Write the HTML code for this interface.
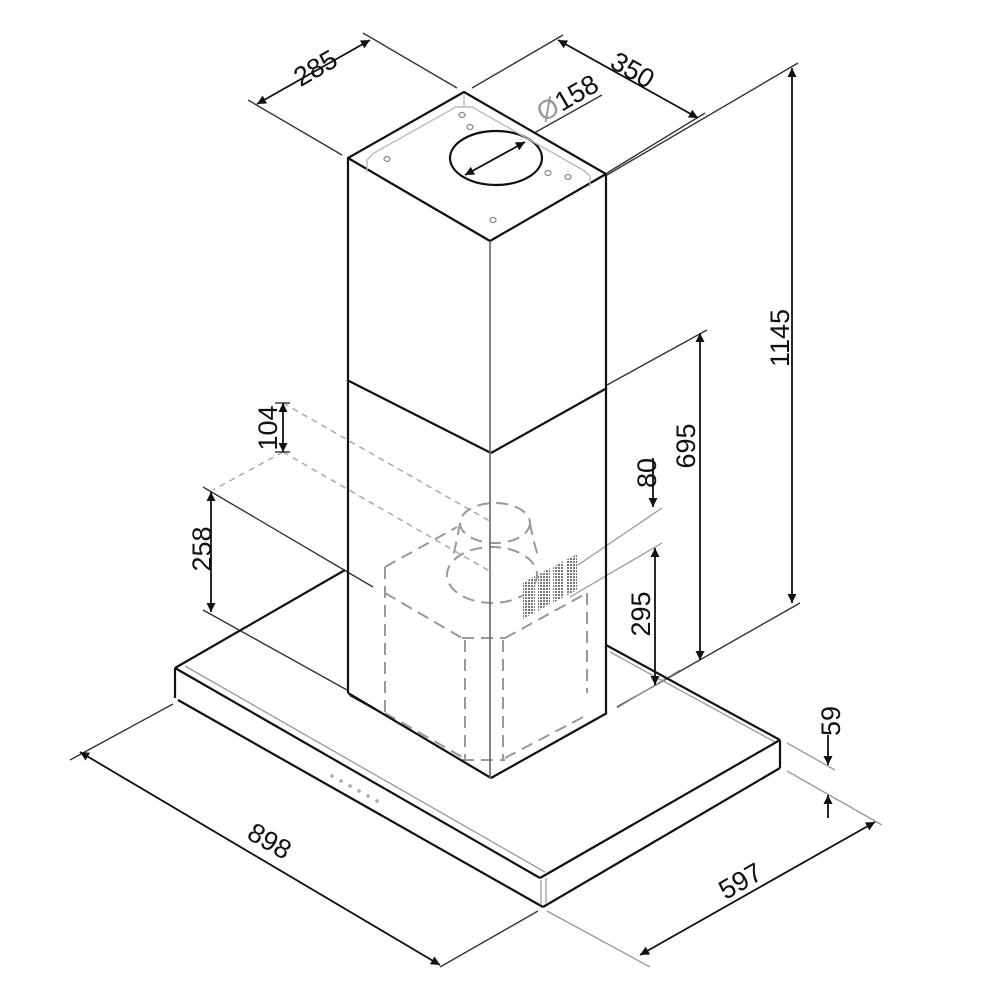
<!DOCTYPE html>
<html><head><meta charset="utf-8"><style>
html,body{margin:0;padding:0;background:#fff;}
svg{display:block;}
text{font-family:"Liberation Sans",Arial,sans-serif;font-size:27px;fill:#111;}
</style></head><body>
<svg width="1000" height="1000" viewBox="0 0 1000 1000" xmlns="http://www.w3.org/2000/svg">
<defs>
<marker id="a" viewBox="0 0 10 10" refX="10" refY="5" markerWidth="13" markerHeight="9" orient="auto-start-reverse" markerUnits="userSpaceOnUse"><path d="M0,0 L10,5 L0,10 z" fill="#111"/></marker>
<pattern id="h" width="3" height="3" patternUnits="userSpaceOnUse"><rect width="3" height="3" fill="#fff"/><rect width="2" height="2" fill="#777"/></pattern>
</defs>

<g stroke="#aaa" stroke-width="1.5" fill="none" stroke-dasharray="6,5">
  <line x1="283" y1="403" x2="493" y2="523"/>
  <line x1="283" y1="452" x2="493" y2="573"/>
  <line x1="283" y1="452" x2="213" y2="490"/>
</g>
<g stroke="#999" stroke-width="2" fill="none" stroke-dasharray="12,7">
  <ellipse cx="495" cy="523" rx="35" ry="20"/>
  <path d="M460,523 Q455,550 452,560"/>
  <path d="M530,523 Q535,550 540,560"/>
  <ellipse cx="492" cy="575" rx="45" ry="28"/>
  <line x1="385" y1="567" x2="457" y2="527"/>
  <line x1="385" y1="567" x2="385" y2="713"/>
  <line x1="385" y1="593" x2="462" y2="638"/>
  <line x1="462" y1="638" x2="505" y2="638"/>
  <line x1="505" y1="638" x2="587" y2="593"/>
  <line x1="587" y1="593" x2="587" y2="693"/>
  <line x1="465" y1="640" x2="465" y2="760"/>
  <line x1="503" y1="640" x2="503" y2="760"/>
  <line x1="385" y1="713" x2="462" y2="757"/>
  <line x1="462" y1="760" x2="505" y2="760"/>
  <line x1="505" y1="758" x2="587" y2="715"/>
</g>
<g fill="url(#h)">
  <polygon points="523,583 535,576 535,612 523,619"/>
  <polygon points="538,575 550,568 550,604 538,611"/>
  <polygon points="553,567 564,561 564,597 553,603"/>
  <polygon points="566,560 577,554 577,590 566,596"/>
</g>

<g stroke="#333" stroke-width="1.4" fill="none">
  <line x1="248" y1="100" x2="342" y2="155"/>
  <line x1="363" y1="33" x2="457" y2="88"/>
  <line x1="472" y1="88" x2="563" y2="35"/>
  <line x1="607" y1="173" x2="705" y2="113"/>
  <line x1="607" y1="175" x2="798" y2="63"/>
  <line x1="527" y1="137" x2="602" y2="95"/>
  <line x1="607" y1="385" x2="707" y2="330"/>
  <line x1="617" y1="707" x2="800" y2="603"/>
  <line x1="203" y1="487" x2="373" y2="587"/>
  <line x1="203" y1="610" x2="347" y2="690"/>
  <line x1="275" y1="403" x2="290" y2="403"/>
  <line x1="275" y1="452" x2="290" y2="452"/>
  <line x1="70" y1="760" x2="173" y2="704"/>
  <line x1="440" y1="967" x2="538" y2="911"/>
</g>
<g stroke="#999" stroke-width="1.3" fill="none">
  <line x1="578" y1="565" x2="662" y2="508"/>
  <line x1="570" y1="597" x2="662" y2="543"/>
  <line x1="617" y1="708" x2="680" y2="670"/>
  <line x1="787" y1="743" x2="835" y2="770"/>
  <line x1="787" y1="771" x2="882" y2="825"/>
  <line x1="547" y1="911" x2="650" y2="967"/>
  <line x1="610" y1="652" x2="775" y2="742"/>
  <line x1="185" y1="666" x2="545" y2="872"/>
</g>

<g stroke="#111" stroke-width="2.2" fill="none" stroke-linejoin="round">
  <polygon points="348,158 464,92 606,174 490,241" fill="#fff"/>
  <line x1="348" y1="158" x2="348" y2="693"/>
  <line x1="606" y1="174" x2="606" y2="713"/>
  <line x1="347" y1="380" x2="491" y2="453"/>
  <line x1="491" y1="453" x2="607" y2="388"/>
  <line x1="348" y1="693" x2="491" y2="778"/>
  <line x1="491" y1="778" x2="607" y2="713"/>
  <ellipse cx="496" cy="158" rx="46" ry="27"/>
</g>
<line x1="490" y1="241" x2="490" y2="778" stroke="#666" stroke-width="1.6"/>
<polyline points="367,172 367,160 374,153 456,107 472,107 583,170 590,176 590,187" stroke="#bbb" stroke-width="1.4" fill="none"/>
<line x1="464" y1="95" x2="464" y2="107" stroke="#bbb" stroke-width="1.4"/>
<g fill="none" stroke="#888" stroke-width="1.2">
  <ellipse cx="462" cy="115" rx="3" ry="2.5"/><ellipse cx="470" cy="127" rx="3" ry="2.5"/>
  <ellipse cx="387" cy="159" rx="3" ry="2.5"/><ellipse cx="548" cy="173" rx="3" ry="2.5"/>
  <ellipse cx="568" cy="177" rx="3" ry="2.5"/><ellipse cx="493" cy="220" rx="3" ry="2.5"/>
</g>

<g stroke="#111" stroke-width="2.2" fill="none" stroke-linejoin="round">
  <line x1="175" y1="668" x2="345" y2="570"/>
  <line x1="606" y1="645" x2="780" y2="740"/>
  <line x1="175" y1="668" x2="540" y2="878"/>
  <line x1="540" y1="878" x2="780" y2="740"/>
  <line x1="175" y1="668" x2="175" y2="698"/>
  <line x1="780" y1="740" x2="780" y2="768"/>
  <line x1="178" y1="700" x2="543" y2="907"/>
  <line x1="543" y1="907" x2="780" y2="768"/>
  <line x1="350" y1="695" x2="375" y2="709"/>
</g>
<line x1="541" y1="880" x2="541" y2="905" stroke="#aaa" stroke-width="1.5"/>
<line x1="546" y1="878" x2="546" y2="903" stroke="#aaa" stroke-width="1.5"/>
<g fill="#aaa"><circle cx="332" cy="776" r="1.8"/><circle cx="341" cy="781" r="1.8"/><circle cx="350" cy="786" r="1.8"/><circle cx="359" cy="791" r="1.8"/><circle cx="368" cy="796" r="1.8"/><circle cx="377" cy="801" r="1.8"/></g>

<g stroke="#111" stroke-width="1.8" fill="none" marker-start="url(#a)" marker-end="url(#a)">
  <line x1="257" y1="104" x2="370" y2="40"/>
  <line x1="558" y1="40" x2="698" y2="118"/>
  <line x1="465" y1="175" x2="525" y2="142"/>
  <line x1="792" y1="68" x2="792" y2="603"/>
  <line x1="700" y1="333" x2="700" y2="660"/>
  <line x1="655" y1="548" x2="655" y2="685"/>
  <line x1="211" y1="492" x2="211" y2="612"/>
  <line x1="283" y1="403" x2="283" y2="452"/>
  <line x1="80" y1="752" x2="440" y2="965"/>
  <line x1="640" y1="955" x2="875" y2="822"/>
</g>
<g stroke="#111" stroke-width="1.8" fill="none" marker-end="url(#a)">
  <line x1="653" y1="458" x2="653" y2="507"/>
  <line x1="828" y1="735" x2="828" y2="765"/>
  <line x1="828" y1="818" x2="828" y2="795"/>
</g>

<text transform="translate(320,76) rotate(-30)" text-anchor="middle">285</text>
<text transform="translate(628,78) rotate(30)" text-anchor="middle">350</text>
<text transform="translate(572,106) rotate(-30)" text-anchor="middle"><tspan fill="#999">Ø</tspan>158</text>
<text transform="translate(789,338) rotate(-90)" text-anchor="middle">1145</text>
<text transform="translate(695,446) rotate(-90)" text-anchor="middle">695</text>
<text transform="translate(656,473) rotate(-90)" text-anchor="middle">80</text>
<text transform="translate(650,614) rotate(-90)" text-anchor="middle">295</text>
<text transform="translate(211,549) rotate(-90)" text-anchor="middle">258</text>
<text transform="translate(277,428) rotate(-90)" text-anchor="middle">104</text>
<text transform="translate(840,721) rotate(-90)" text-anchor="middle">59</text>
<text transform="translate(265,849) rotate(30)" text-anchor="middle">898</text>
<text transform="translate(745,889) rotate(-30)" text-anchor="middle">597</text>
</svg>
</body></html>
